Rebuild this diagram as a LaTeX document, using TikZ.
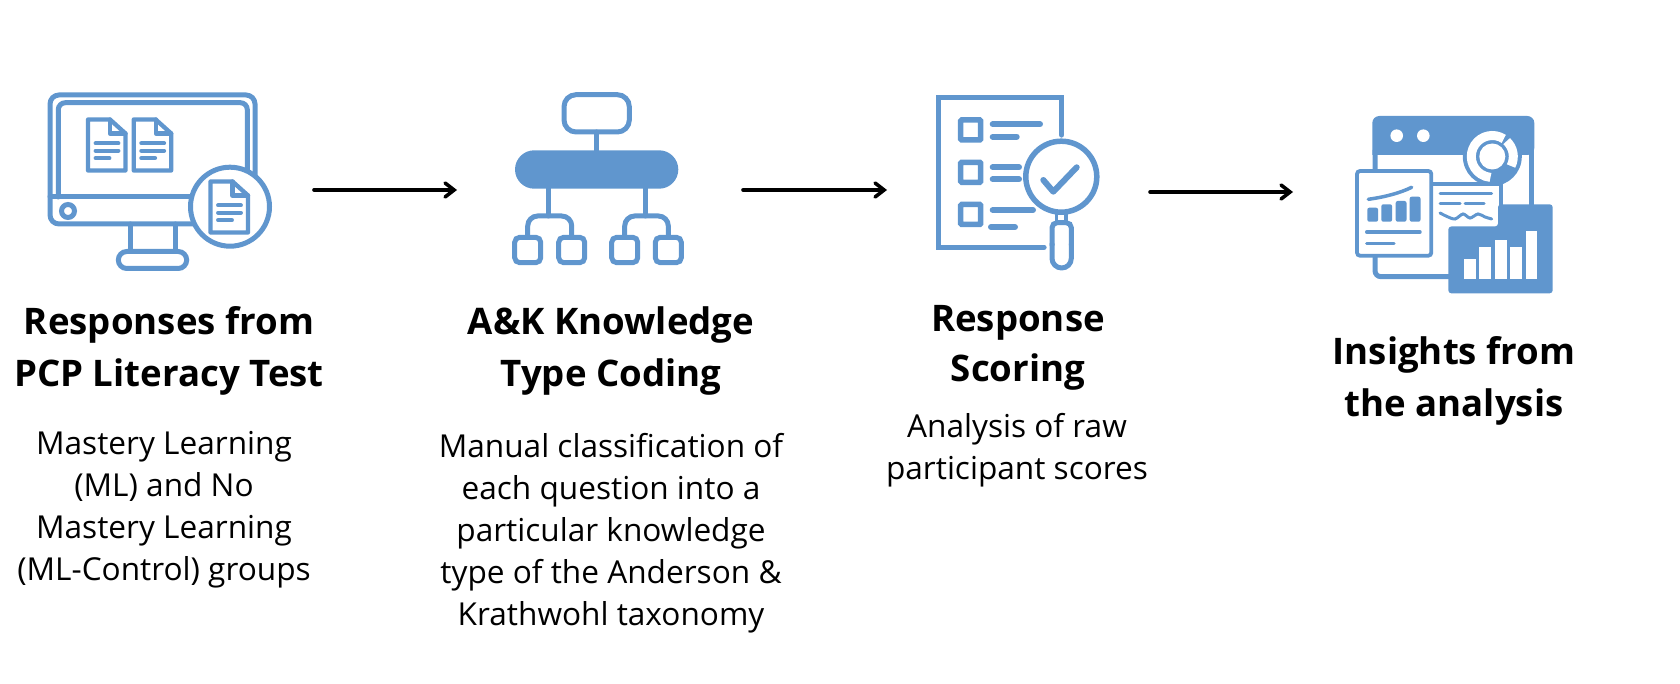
\documentclass[tikz,border=0pt]{standalone}
\usepackage{fontspec}
\setmainfont{Open Sans}
\usetikzlibrary{arrows.meta, positioning}

\definecolor{iconblue}{HTML}{6096CE}

\tikzset{
  iconbox/.style={minimum height=60pt, inner sep=0pt, outer sep=0pt},
  headtext/.style={align=center, anchor=north, inner sep=0pt, font=\bfseries\fontsize{36.6}{52}\selectfont},
  bodytext/.style={align=center, anchor=north, inner sep=0pt, font=\fontsize{31.6}{42}\selectfont},
  flowarrow/.style={line width=3.6pt, -{Straight Barb[length=9pt, width=14pt, line cap=round]}, line cap=round},
  iconline/.style={iconblue, line width=5pt, line cap=round},
  thinline/.style={iconblue, line width=4.3pt, line cap=round},
}

% document sheet with folded corner, (#1,#2) is its top left corner
\newcommand{\docsheet}[2]{
  \begin{scope}[shift={(#1,#2)}]
    \draw[thinline, fill=white, line join=round] (0,0) -- (22,0) -- (37.5,14) -- (37.5,51) -- (0,51) -- cycle;
    \draw[thinline, line join=round] (22,0) -- (22,14) -- (37.5,14);
    \draw[thinline] (7.7,23.8) -- (30.3,23.8);
    \draw[thinline] (7.7,31.2) -- (30.3,31.2);
    \draw[thinline] (7.7,38.6) -- (21.3,38.6);
  \end{scope}
}

\begin{document}
\begin{tikzpicture}[x=1pt, y=-1pt]
  \useasboundingbox (0,0) rectangle (1680,684);

  % Monitor
  \draw[iconline, rounded corners=9pt] (50,95) rectangle (255,224);
  \draw[iconline, rounded corners=7pt] (58.3,197) -- (58.3,102.7) -- (247.3,102.7) -- (247.3,197);
  \draw[iconline] (50,197) -- (255,197);
  \draw[iconline] (68,211) circle (6.5pt);
  \draw[iconline] (130,224) -- (130,251);
  \draw[iconline] (175,224) -- (175,251);
  \draw[iconline, rounded corners=8.5pt] (118.3,251.5) rectangle (186.7,268.5);
  \docsheet{88}{119.5}
  \docsheet{133.7}{119.5}
  \draw[iconline, fill=white] (230,206.7) circle (39.5pt);
  \docsheet{210.5}{181.5}

  % Hierarchy
  \draw[iconline, rounded corners=12pt] (564,94.7) rectangle (629.3,132);
  \draw[iconline] (596.7,132) -- (596.7,155);
  \fill[iconblue, rounded corners=19.2pt] (515,150.3) rectangle (678.3,188.7);
  \foreach \stemx/\leftx/\rightx in {548.3/527.7/571.7, 645/624.7/668.3} {
    \draw[iconline] (\stemx,185) -- (\stemx,216);
    \draw[iconline, rounded corners=10pt] (\leftx,237) -- (\leftx,216) -- (\rightx,216) -- (\rightx,237);
    \draw[iconline, rounded corners=5pt] (\leftx-13,237.3) rectangle (\leftx+13,262.7);
    \draw[iconline, rounded corners=5pt] (\rightx-13,237.3) rectangle (\rightx+13,262.7);
  }

  % Checklist
  \draw[iconline, line width=5.3pt] (1061.7,135) -- (1061.7,97.7) -- (938.7,97.7) -- (938.7,247.3) -- (1044,247.3);
  \foreach \rowy in {120,162.3,204.5}
    \draw[iconline, line width=5.5pt, rounded corners=1pt] (960.7,\rowy) rectangle (980.7,\rowy+20);
  \foreach \startx/\endx/\liney in {992.7/1040/124.3, 992.7/1016.7/136.7, 992.7/1019/167.3, 992.7/1019/179.3, 992.7/1033/210, 991/1015/227}
    \draw[iconline, line width=6pt] (\startx,\liney) -- (\endx,\liney);
  \draw[iconline, line width=5.5pt, fill=white] (1061.3,176.7) circle (35.5pt);
  \draw[iconline, line width=6pt, line join=round] (1043.3,180) -- (1053.3,191.7) -- (1076.7,167.3);
  \draw[iconline, line width=3.5pt] (1056.7,212) -- (1056.7,222);
  \draw[iconline, line width=3.5pt] (1066,212) -- (1066,222);
  \draw[iconline, line width=5pt, rounded corners=5pt, fill=white] (1052,245) -- (1052,222.7) -- (1071.3,222.7) -- (1071.3,245);
  \draw[iconline, line width=5pt, rounded corners=9.6pt] (1052,244) -- (1052,268) -- (1071.3,268) -- (1071.3,244);

  % Analytics window
  \draw[iconline, rounded corners=6pt, line cap=butt] (1375,150) -- (1375,276.7) -- (1455,276.7);
  \draw[iconline, line cap=butt] (1531,150) -- (1531,210);
  \fill[iconblue, rounded corners=7pt] (1372.3,155) -- (1372.3,116) -- (1534.3,116) -- (1534.3,155) [sharp corners] -- cycle;
  \fill[white] (1396.7,135.7) circle (6.3pt);
  \fill[white] (1423.3,135.7) circle (6.3pt);
  \fill[iconblue] (1492.3,156.5) circle (29.5pt);
  \draw[white, line width=9pt] (1492.3,156.5) ++(57:21pt) arc[start angle=57, end angle=265, radius=21pt];
  \draw[white, line width=9pt] (1492.3,156.5) ++(47:21pt) arc[start angle=47, end angle=-27, radius=21pt];
  \fill[white] (1492.3,156.5) circle (13pt);
  \draw[thinline, line width=3.8pt, line cap=butt] (1425,184) -- (1500.7,184) -- (1500.7,210);
  \draw[thinline, line width=3pt] (1440,194) -- (1491.7,194);
  \draw[thinline, line width=3pt] (1440,203.3) -- (1460,203.3);
  \draw[thinline, line width=3pt] (1465,203.3) -- (1484,203.3);
  \draw[thinline, line width=3pt] plot[smooth] coordinates {(1440,213) (1447,216.5) (1455,219) (1463,214) (1470,218) (1478,214) (1485,217) (1491.7,219)};
  \draw[thinline, line width=3.8pt, fill=white, rounded corners=3pt] (1357,171) rectangle (1431.3,255.7);
  \draw[thinline, line width=3.5pt] (1368.3,199.3) .. controls (1385,197) and (1400,193) .. (1411.7,187.3);
  \foreach \barx/\bartop in {1367.3/207.7, 1381.3/204.3, 1395.7/201, 1409.7/196.7}
    \fill[iconblue, rounded corners=2pt] (\barx,\bartop) rectangle (\barx+10.8,221.7);
  \draw[thinline, line width=3.4pt] (1366.7,232) -- (1420,232);
  \draw[thinline, line width=3.4pt] (1366.7,243.3) -- (1394,243.3);
  \fill[iconblue, rounded corners=3pt] (1498,204.3) -- (1552.7,204.3) -- (1552.7,293.3) -- (1448.3,293.3) -- (1448.3,226.5) -- (1498,226.5) -- cycle;
  \foreach \barx/\bartop in {1464/259, 1479.3/246.7, 1495/240, 1510.3/247.3, 1525.7/231}
    \fill[white] (\barx,\bartop) rectangle (\barx+11.5,279);

  % Step nodes
  \node[iconbox, minimum width=267pt] (monitor) at (180.5,190) {};
  \node[iconbox, minimum width=286pt] (hierarchy) at (600,190) {};
  \node[iconbox, minimum width=263pt] (checklist) at (1018.5,192) {};
  \node[iconbox, minimum width=320pt] (analytics) at (1453,192) {};

  % Arrows
  \draw[flowarrow] (monitor) -- (hierarchy);
  \draw[flowarrow] (hierarchy.east) -- (hierarchy.east -| checklist.west);
  \draw[flowarrow] (checklist) -- (analytics);

  % Texts
  \node[headtext] (headresponses) at (169,306.5) {Responses from\\PCP Literacy Test};
  \node[bodytext] (bodyresponses) at (164,431.5) {Mastery Learning\\(ML) and No\\Mastery Learning\\(ML-Control) groups};
  \node[headtext] (headcoding) at (611,306.5) {A\&K Knowledge\\Type Coding};
  \node[bodytext] (bodycoding) at (611,433) {Manual classification of\\each question into a\\particular knowledge\\type of the Anderson \&\\Krathwohl taxonomy};
  \node[headtext] (headscoring) at (1018,305) {Response\\[-2pt]Scoring};
  \node[bodytext] (bodyscoring) at (1017,413.5) {Analysis of raw\\participant scores};
  \node[headtext] (headinsights) at (1454,336.5) {Insights from\\the analysis};
\end{tikzpicture}
\end{document}
